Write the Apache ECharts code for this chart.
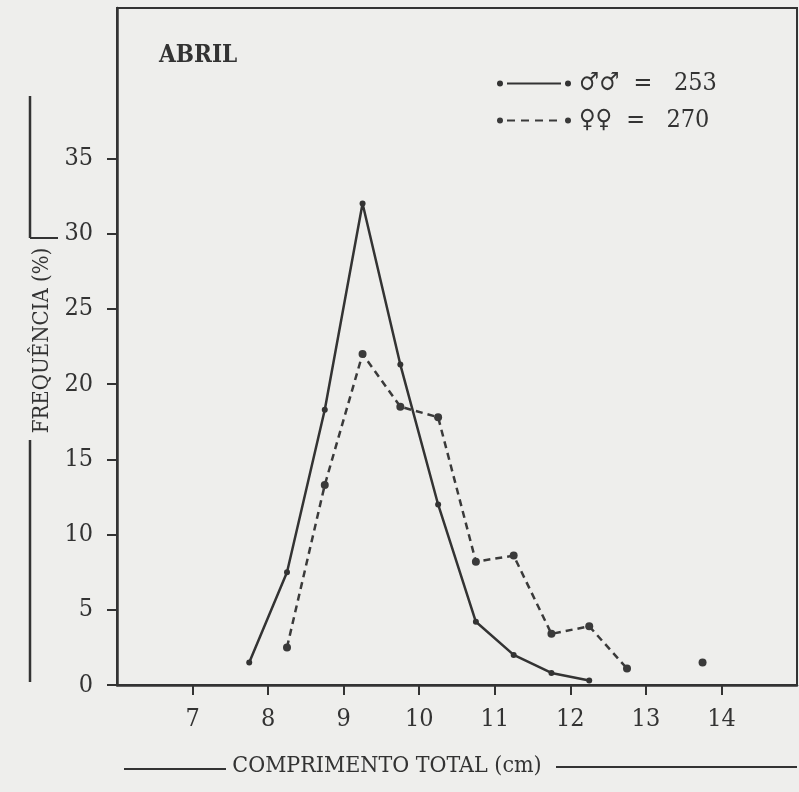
<!DOCTYPE html>
<html>
<head>
<meta charset="utf-8">
<script src="https://cdn.jsdelivr.net/npm/echarts@6/dist/echarts.min.js"></script>
<style>
html,body{margin:0;padding:0;background:#eeeeec;}
#chart{width:799px;height:792px;}
</style>
</head>
<body>
<div id="chart"></div>
<script>
// Comprimento total (cm) - class midpoints
var lengths = [7.75, 8.25, 8.75, 9.25, 9.75, 10.25, 10.75, 11.25, 11.75, 12.25, 12.75, 13.25, 13.75];
// Frequência (%) machos (n = 253)
var males = [1.5, 7.5, 18.3, 32.0, 21.3, 12.0, 4.2, 2.0, 0.8, 0.3, null, null, null];
// Frequência (%) fêmeas (n = 270)
var females = [null, 2.5, 13.3, 22.0, 18.5, 17.8, 8.2, 8.6, 3.4, 3.9, 1.1, null, 1.5];
var xTicks = [7, 8, 9, 10, 11, 12, 13, 14];
var yTicks = [0, 5, 10, 15, 20, 25, 30, 35];
var seriesNames = ['\u2642\u2642  =   253', '\u2640\u2640  =   270'];
var monthLabel = 'ABRIL';
var xTitle = 'COMPRIMENTO TOTAL (cm)';
var yTitle = 'FREQU\u00caNCIA (%)';

function pairs(vals) {
  return lengths.map(function (x, i) {
    return [x, vals[i] == null ? '-' : vals[i]];
  });
}

var ink = '#333333';
var font = 'DejaVu Serif Condensed';

var solidIcon = 'path://M0,4A3,3,0,1,0,6,4A3,3,0,1,0,0,4Z M10,3.1H64V4.9H10Z M68,4A3,3,0,1,0,74,4A3,3,0,1,0,68,4Z';
var dashIcon = 'path://M0,4A3,3,0,1,0,6,4A3,3,0,1,0,0,4Z M10,3.1H18V4.9H10Z M24,3.1H32V4.9H24Z M38,3.1H46V4.9H38Z M52,3.1H60V4.9H52Z M68,4A3,3,0,1,0,74,4A3,3,0,1,0,68,4Z';

var chart = echarts.init(document.getElementById('chart'), null, {renderer: 'canvas'});
chart.setOption({
  backgroundColor: '#eeeeec',
  animation: false,
  title: {
    text: monthLabel,
    left: 154, top: 39,
    textStyle: {fontFamily: font, fontSize: 24, fontWeight: 'bold', color: ink}
  },
  legend: {
    orient: 'vertical',
    left: 492, top: 65,
    itemWidth: 74, itemHeight: 8,
    itemGap: 10,
    data: [
      {name: seriesNames[0], icon: solidIcon},
      {name: seriesNames[1], icon: dashIcon}
    ],
    textStyle: {fontFamily: font, fontSize: 25, lineHeight: 27, color: ink, padding: [0, 0, 0, 3]}
  },
  grid: {
    left: 117, top: 8, right: 2, bottom: 107,
    show: true, borderColor: ink, borderWidth: 2, backgroundColor: 'transparent'
  },
  xAxis: {
    type: 'value', min: 6, max: 15, interval: 1,
    name: xTitle, nameLocation: 'middle', nameGap: 70,
    nameTextStyle: {fontFamily: font, fontSize: 23, color: ink, padding: [0, 140, 0, 0]},
    axisLine: {show: true, lineStyle: {color: ink, width: 2.5}},
    axisTick: {show: true, length: 10, lineStyle: {color: ink, width: 2}, customValues: xTicks},
    axisLabel: {fontFamily: font, fontSize: 25, color: ink, margin: 22, customValues: xTicks},
    splitLine: {show: false}
  },
  yAxis: {
    type: 'value', min: 0, max: 45, interval: 5,
    name: yTitle, nameLocation: 'middle', nameGap: 64, nameRotate: 90,
    nameTextStyle: {fontFamily: font, fontSize: 22, color: ink, padding: [0, 0, 0, 12]},
    axisLine: {show: true, lineStyle: {color: ink, width: 2.5}},
    axisTick: {show: true, length: 10, lineStyle: {color: ink, width: 2}, customValues: yTicks},
    axisLabel: {fontFamily: font, fontSize: 25, color: ink, margin: 24, customValues: yTicks},
    splitLine: {show: false}
  },
  graphic: [
    {type: 'line', shape: {x1: 30, y1: 96, x2: 30, y2: 238}, style: {stroke: ink, lineWidth: 2.5}},
    {type: 'line', shape: {x1: 30, y1: 238, x2: 58, y2: 238}, style: {stroke: ink, lineWidth: 2}},
    {type: 'line', shape: {x1: 30, y1: 440, x2: 30, y2: 682}, style: {stroke: ink, lineWidth: 2.5}},
    {type: 'line', shape: {x1: 124, y1: 769, x2: 226, y2: 769}, style: {stroke: ink, lineWidth: 2}},
    {type: 'line', shape: {x1: 556, y1: 767, x2: 797, y2: 767}, style: {stroke: ink, lineWidth: 2}}
  ],
  series: [
    {
      name: seriesNames[0], type: 'line',
      data: pairs(males),
      connectNulls: false,
      symbol: 'circle', symbolSize: 6,
      itemStyle: {color: ink},
      lineStyle: {color: ink, width: 2.5, type: 'solid'}
    },
    {
      name: seriesNames[1], type: 'line',
      data: pairs(females),
      connectNulls: false,
      symbol: 'circle', symbolSize: 8,
      itemStyle: {color: '#3a3a3a'},
      lineStyle: {color: '#3a3a3a', width: 2.5, type: [7, 5]}
    }
  ]
});
</script>
</body>
</html>
